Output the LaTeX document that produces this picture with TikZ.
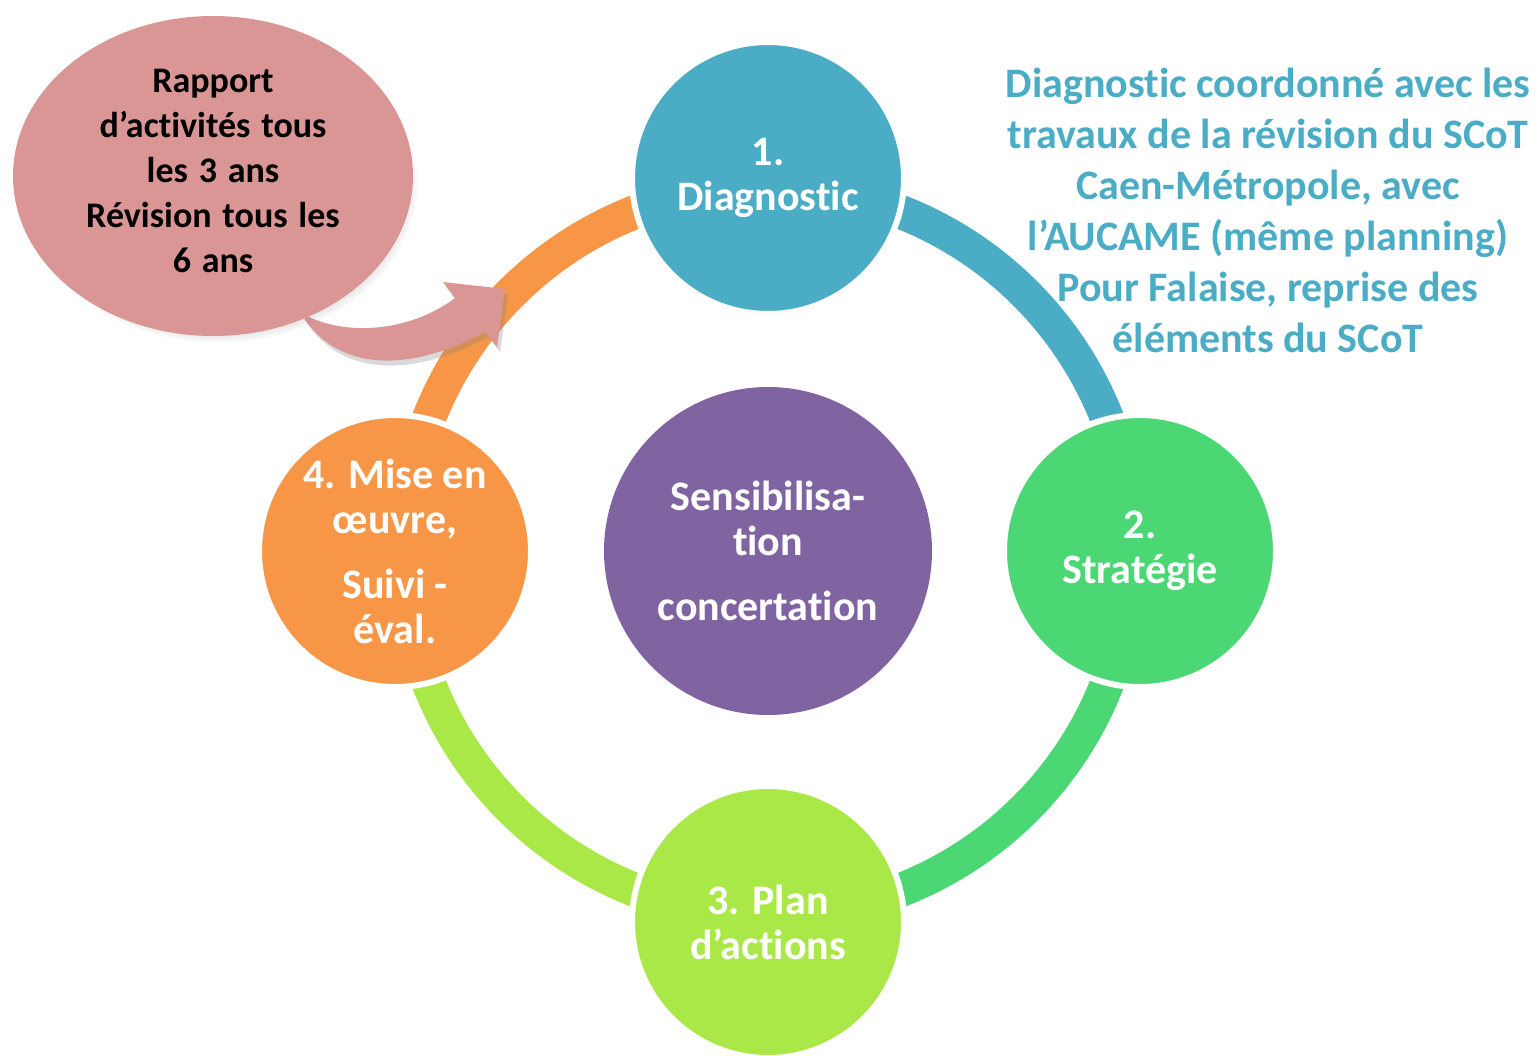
\documentclass[tikz,border=0pt]{standalone}
\usepackage{fontspec}
\setmainfont{Carlito}[Ligatures=NoCommon]
\usetikzlibrary{shapes.geometric,shadows,calc}
\definecolor{cdiag}{HTML}{4BACC6}
\definecolor{cstrat}{HTML}{4AD774}
\definecolor{cplan}{HTML}{AAE848}
\definecolor{cmise}{HTML}{F79646}
\definecolor{cpurple}{HTML}{8064A2}
\definecolor{cpink}{HTML}{D99694}
\newcommand\mywidespaces{\spaceskip=0.3em\relax}
\begin{document}
\begin{tikzpicture}[x=1pt,y=-1pt,
  stage/.style={circle, fill=#1, draw=white, line width=6pt, minimum size=272pt,
    inner sep=0pt, text=white, align=center,
    font=\fontsize{42}{45}\selectfont\bfseries},
  hub/.style={circle, fill=cpurple, minimum size=328pt, inner sep=0pt,
    text=white, align=center, font=\fontsize{42}{45}\selectfont\bfseries},
  ringarc/.style={draw=#1, line width=34pt},
  bubble/.style={ellipse, fill=cpink, minimum width=400pt, minimum height=320pt,
    inner sep=0pt,
    circular drop shadow={shadow xshift=5pt, shadow yshift=-7pt, shadow scale=1.0, opacity=.5}},
  bubbletext/.style={align=center, text=black, font=\fontsize{36}{45}\selectfont\bfseries\mywidespaces},
  sidenote/.style={align=center, text=cdiag, font=\fontsize{42}{51}\selectfont\bfseries},
]
\useasboundingbox (0,0) rectangle (1538,1056);

\coordinate (ctr) at (768,551);

% ring
\draw[ringarc=cdiag]  ($(ctr)+(0,-364)$) arc[start angle=90, end angle=0, radius=364pt];
\draw[ringarc=cstrat] ($(ctr)+(364,0)$) arc[start angle=0, end angle=-90, radius=364pt];
\draw[ringarc=cplan]  ($(ctr)+(0,364)$) arc[start angle=-90, end angle=-180, radius=364pt];
\draw[ringarc=cmise]  ($(ctr)+(-364,0)$) arc[start angle=180, end angle=90, radius=364pt];

% stages
\node[stage=cdiag]  (diag)  at (768,178) {1.\\Diagnostic};
\node[stage=cstrat] (strat) at (1140,551) {2.\\Stratégie};
\node[stage=cplan]  (plan)  at (768,922) {3. Plan\\d’actions};
\node[stage=cmise]  (mise)  at (395,551) {4. Mise en\\œuvre,\\[20pt]Suivi -\\éval.};
\node[hub] (hub) at (ctr) {Sensibilisa-\\tion\\[20pt]concertation};

% curved arrow from the bubble
\fill[cpink, drop shadow={shadow xshift=3pt, shadow yshift=-5pt, opacity=.3}]
  (303,314) .. controls (345,337) and (410,332) .. (455,298)
  -- (443,282) -- (505,289) -- (497,347) -- (485,332)
  .. controls (430,362) and (350,382) .. (305,320) -- cycle;

% bubble
\node[bubble] (note) at (213,176) {};
\node[bubbletext] (notetext) at (213,171) {Rapport\\d’activités tous\\les 3 ans\\Révision tous les\\6 ans};

% side note
\node[sidenote] (side) at (1268,210) {Diagnostic coordonné avec les\\travaux de la révision du SCoT\\Caen-Métropole, avec\\l’AUCAME (même planning)\\Pour Falaise, reprise des\\éléments du SCoT};
\end{tikzpicture}
\end{document}
